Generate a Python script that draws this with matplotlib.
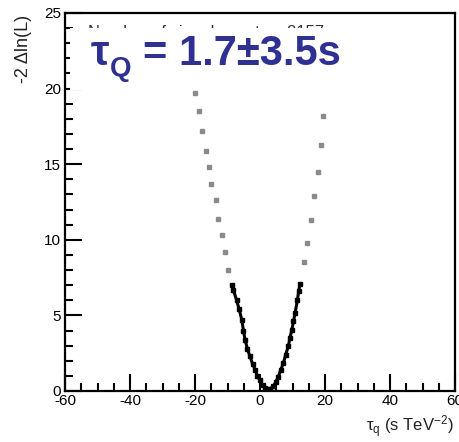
import matplotlib
matplotlib.use("Agg")
import matplotlib.pyplot as plt
from matplotlib.patches import Rectangle
from matplotlib.ticker import MultipleLocator

plt.rcParams['font.family'] = ['Liberation Sans', 'DejaVu Sans']
plt.rcParams['mathtext.fontset'] = 'custom'
plt.rcParams['mathtext.rm'] = 'Liberation Sans'
plt.rcParams['mathtext.it'] = 'Liberation Sans'

# Scan points outside the fitted region (grey markers)
left_x = [-20.0, -18.8, -17.9, -16.7, -15.6, -15.1, -13.6, -13.0, -11.6, -10.9, -9.7]
left_y = [19.7, 18.5, 17.2, 15.9, 14.8, 13.7, 12.6, 11.4, 10.3, 9.2, 8.0]
right_x = [19.5, 18.7, 17.7, 16.6, 15.6, 14.5, 13.6]
right_y = [18.2, 16.3, 14.5, 12.9, 11.3, 9.8, 8.5]

# Dense central part of the scan (black)
curve_x = [-8.7, -8.2, -7.2, -6.4, -5.6, -5.1, -4.6, -3.9, -3.1, -2.3, -1.5, -0.8, 0.0,
           0.8, 1.5, 2.3, 3.1, 4.1, 4.9, 5.6, 6.4, 7.2, 7.9, 8.7, 9.2, 9.8, 10.3,
           10.8, 11.5, 11.9, 12.3]
curve_y = [7.0, 6.7, 6.0, 5.4, 4.7, 4.0, 3.4, 2.8, 2.3, 1.8, 1.4, 1.0, 0.7,
           0.4, 0.2, 0.1, 0.15, 0.3, 0.6, 0.95, 1.4, 1.85, 2.4, 2.95, 3.5, 4.05, 4.6,
           5.15, 6.0, 6.6, 7.1]

xticks = [-60, -40, -20, 0, 20, 40, 60]
yticks = [0, 5, 10, 15, 20, 25]

W, H = 459, 442
fig = plt.figure(figsize=(W / 100, H / 100), dpi=100)
ax = fig.add_axes([65 / W, (H - 391) / H, 390 / W, 378 / H])

ax.plot(left_x, left_y, ls='none', marker='s', ms=3, color='#8a8a8a', mec='#8a8a8a')
ax.plot(right_x, right_y, ls='none', marker='s', ms=3, color='#8a8a8a', mec='#8a8a8a')
ax.plot(curve_x, curve_y, color='black', lw=2.2, marker='s', ms=2.2, mec='black')

ax.set_xlim(-60, 60)
ax.set_ylim(0, 25)
ax.set_xticks(xticks)
ax.set_yticks(yticks)
ax.set_xticklabels([str(v) for v in xticks])
ax.set_yticklabels([str(v) for v in yticks])
ax.xaxis.set_minor_locator(MultipleLocator(5))
ax.yaxis.set_minor_locator(MultipleLocator(1))
ax.tick_params(which='major', direction='in', length=12, width=1.5, labelsize=11, pad=3)
ax.tick_params(which='minor', direction='in', length=6, width=1.5)
ax.tick_params(axis='x', pad=2)
for s in ax.spines.values():
    s.set_linewidth(1.6)

fig.text(23 / W, 1 - 15 / H, '-2 \u0394ln(L)', rotation=90, ha='center', va='top',
         fontsize=13, color='#222222')
fig.text(454 / W, 1 - 427 / H, r'$\mathregular{\tau_q}$ (s TeV$^{\mathregular{-2}}$)',
         ha='right', va='center', fontsize=12, color='#222222')

# Partially hidden statistics text and white box
fig.text(88 / W, 1 - 24.5 / H, 'Number of signal events = 2157', fontsize=12,
         color='#333333', ha='left', va='top', zorder=4)
fig.add_artist(Rectangle((70 / W, 1 - 90 / H), 305 / W, 62.5 / H,
                         transform=fig.transFigure, facecolor='white',
                         edgecolor='none', zorder=5))

blue = '#2e3192'
fig.text(91 / W, 1 - 65 / H, '\u03c4', fontsize=30, fontweight='bold', color=blue,
         ha='left', va='baseline', zorder=6)
fig.text(110 / W, 1 - 76 / H, 'Q', fontsize=20, fontweight='bold', color=blue,
         ha='left', va='baseline', zorder=6)
fig.text(143 / W, 1 - 65 / H, '= 1.7\u00b13.5s', fontsize=30, fontweight='bold',
         color=blue, ha='left', va='baseline', zorder=6)

fig.savefig('out.png', dpi=100)
